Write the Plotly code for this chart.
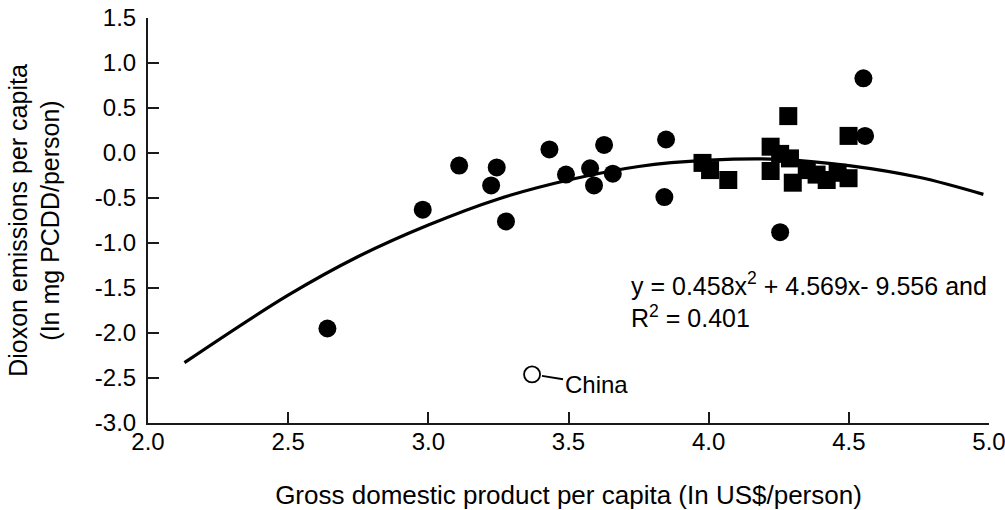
import plotly.graph_objects as go

# Filled circles
circle_x = [2.640, 2.980, 3.110, 3.224, 3.244, 3.277, 3.432, 3.491, 3.577, 3.591,
            3.627, 3.658, 3.842, 3.848, 4.255, 4.552, 4.558]
circle_y = [-1.95, -0.63, -0.14, -0.36, -0.16, -0.76, 0.04, -0.24, -0.17, -0.36,
            0.09, -0.23, -0.49, 0.15, -0.88, 0.83, 0.19]

# Filled squares
square_x = [3.978, 4.005, 4.070, 4.221, 4.221, 4.255, 4.284, 4.290, 4.300, 4.350,
            4.385, 4.421, 4.460, 4.499, 4.499]
square_y = [-0.11, -0.19, -0.30, 0.07, -0.20, -0.01, 0.41, -0.06, -0.33, -0.19,
            -0.24, -0.30, -0.22, -0.28, 0.19]

# China (open circle)
china_x = [3.370]
china_y = [-2.46]

# Fitted curve
curve_x = [2.13, 2.50, 2.75, 3.00, 3.25, 3.50, 3.75, 4.00, 4.25, 4.50, 4.75, 4.98]
curve_y = [-2.33, -1.58, -1.15, -0.80, -0.51, -0.30, -0.15, -0.08, -0.07, -0.14, -0.27, -0.46]

x_ticks = [2.0, 2.5, 3.0, 3.5, 4.0, 4.5, 5.0]
y_ticks = [-3.0, -2.5, -2.0, -1.5, -1.0, -0.5, 0.0, 0.5, 1.0, 1.5]

FONT = "Arial, Liberation Sans, sans-serif"
AX = "#1a1a1a"

fig = go.Figure()
fig.add_trace(go.Scatter(x=curve_x, y=curve_y, mode="lines", line_shape="spline",
                         line=dict(color="black", width=3.2), showlegend=False))
fig.add_trace(go.Scatter(x=square_x, y=square_y, mode="markers",
                         marker=dict(symbol="square", size=18, color="black"), showlegend=False))
fig.add_trace(go.Scatter(x=circle_x, y=circle_y, mode="markers",
                         marker=dict(symbol="circle", size=18, color="black"), showlegend=False))
fig.add_trace(go.Scatter(x=china_x, y=china_y, mode="markers",
                         marker=dict(symbol="circle", size=16, color="white",
                                     line=dict(color="black", width=1.8)), showlegend=False))

fig.add_annotation(x=china_x[0], y=china_y[0], text="China", showarrow=True,
                   arrowhead=0, arrowwidth=1.8, arrowcolor="black", ax=64, ay=10,
                   standoff=10, font=dict(family=FONT, size=24, color="black"))
fig.add_annotation(x=3.716, y=-1.63, xanchor="left", yanchor="middle", align="left",
                   text="y = 0.458x<sup>2</sup> + 4.569x- 9.556 and<br>R<sup>2</sup> = 0.401",
                   showarrow=False, font=dict(family=FONT, size=25, color="black"))

fig.update_xaxes(range=[2.0, 5.0], tickvals=x_ticks, ticktext=[f"{v:.1f}" for v in x_ticks],
                 ticks="inside", ticklen=11, tickwidth=2, tickcolor=AX, automargin=False,
                 ticklabeloverflow="allow", ticklabelstandoff=-4,
                 showline=True, linewidth=2, linecolor=AX, showgrid=False, zeroline=False,
                 tickfont=dict(family=FONT, size=24, color="black"),
                 title=dict(text="Gross domestic product per capita (In US$/person)",
                            font=dict(family=FONT, size=26, color="black"), standoff=40))
fig.update_yaxes(range=[-3.0, 1.5], tickvals=y_ticks, ticktext=[f"{v:.1f}" for v in y_ticks],
                 ticks="inside", ticklen=11, tickwidth=2, tickcolor=AX, automargin=False,
                 ticklabeloverflow="allow", ticklabelstandoff=5,
                 showline=True, linewidth=2, linecolor=AX, showgrid=False, zeroline=False,
                 tickfont=dict(family=FONT, size=24, color="black"),
                 title=dict(text="Dioxon emissions per capita<br>(In mg PCDD/person)",
                            font=dict(family=FONT, size=25, color="black"), standoff=28))

fig.update_layout(width=1005, height=510, plot_bgcolor="white", paper_bgcolor="white",
                  margin=dict(l=148, r=16, t=18, b=87), showlegend=False)

# remove the page's default body margin so the figure fills the window exactly
fig.write_html("out.html", config={"displayModeBar": False},
               post_script="document.body.style.margin='0';")
